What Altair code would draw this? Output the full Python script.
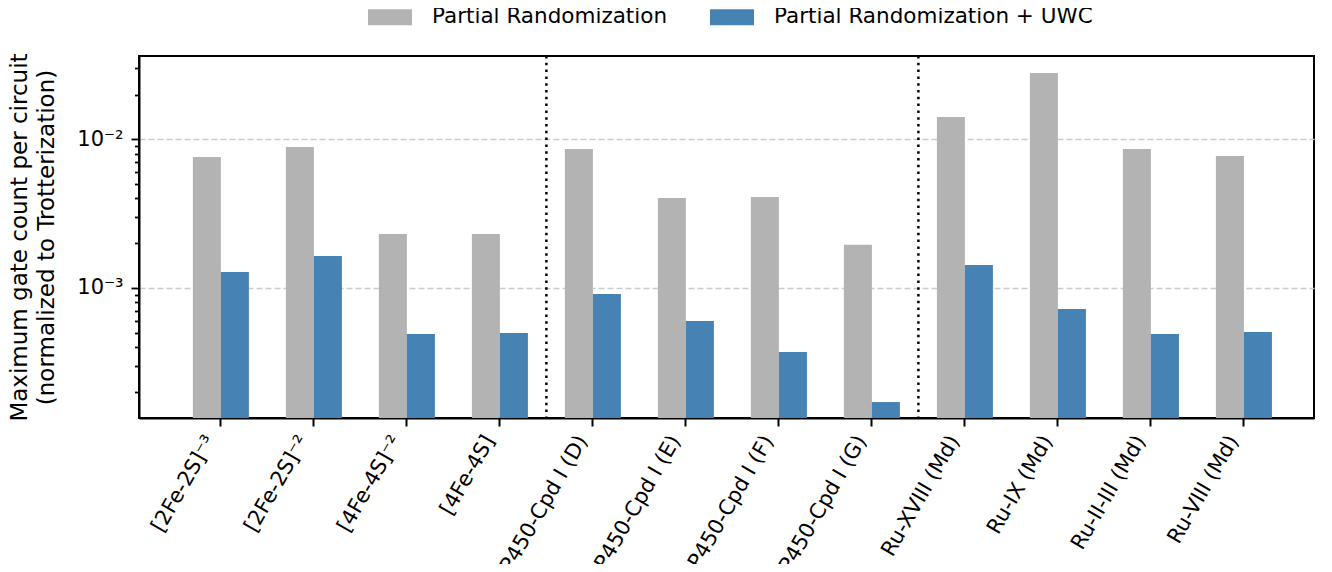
import altair as alt
import pandas as pd

# ---- data ----
categories = [
    "[2Fe-2S]⁻³", "[2Fe-2S]⁻²", "[4Fe-4S]⁻²", "[4Fe-4S]",
    "P450-Cpd I (D)", "P450-Cpd I (E)", "P450-Cpd I (F)", "P450-Cpd I (G)",
    "Ru-XVIII (Md)", "Ru-IX (Md)", "Ru-II-III (Md)", "Ru-VIII (Md)",
]
pr_values = [0.00760, 0.00887, 0.00231, 0.00231,
             0.00861, 0.00403, 0.00409, 0.00195,
             0.01413, 0.0279, 0.00861, 0.00772]
uwc_values = [0.00128, 0.00164, 0.000491, 0.000498,
              0.000912, 0.000600, 0.000371, 0.000171,
              0.00143, 0.000723, 0.000491, 0.000506]
methods = ["Partial Randomization", "Partial Randomization + UWC"]
colors = ["#b3b3b3", "#4682b4"]
separators_after = ["[4Fe-4S]", "P450-Cpd I (G)"]
y_domain = [0.0001336, 0.0363]
y_ticks = [2e-4, 3e-4, 4e-4, 5e-4, 6e-4, 7e-4, 8e-4, 9e-4,
           1e-3, 2e-3, 3e-3, 4e-3, 5e-3, 6e-3, 7e-3, 8e-3, 9e-3,
           1e-2, 2e-2, 3e-2]
y_title = ["Maximum gate count per circuit", "(normalized to Trotterization)"]

rows = []
for c, a, b in zip(categories, pr_values, uwc_values):
    rows.append({"category": c, "method": methods[0], "value": a})
    rows.append({"category": c, "method": methods[1], "value": b})
df = pd.DataFrame(rows)
sep_df = pd.DataFrame({"category": separators_after})

FONT = "DejaVu Sans"
W, H = 1175, 362
major = "abs(log(datum.value)/LN10 - round(log(datum.value)/LN10)) < 0.001"

x_scale = alt.Scale(domain=categories, paddingInner=0, paddingOuter=0.317, align=0.6)

bars = alt.Chart(df).mark_bar().encode(
    x=alt.X(
        "category:N", sort=categories, scale=x_scale, title=None,
        axis=alt.Axis(
            labelAngle=-60, labelAlign="right", labelBaseline="middle",
            labelFontSize=21, labelFont=FONT, labelColor="black",
            labelPadding=11, labelOffset=-10, labelLimit=400,
            tickSize=8, tickWidth=2, tickColor="black",
            domainColor="black", domainWidth=2, grid=False,
        ),
    ),
    xOffset=alt.XOffset(
        "method:N", sort=methods,
        scale=alt.Scale(domain=methods, paddingInner=0, paddingOuter=0.66),
    ),
    y=alt.Y(
        "value:Q", stack=None,
        scale=alt.Scale(type="log", domain=y_domain, nice=False),
        axis=alt.Axis(
            values=y_ticks,
            labelExpr=f"({major}) ? (datum.value < 0.005 ? '10⁻³' : '10⁻²') : ''",
            labelFontSize=21, labelFont=FONT, labelColor="black", labelPadding=8,
            tickSize={"condition": {"test": major, "value": 8}, "value": 4.5},
            tickWidth=1.8, tickColor="black",
            grid=True, gridColor="#cccccc", gridDash=[6, 3], gridWidth=1.3,
            gridOpacity={"condition": {"test": major, "value": 1}, "value": 0},
            domainColor="black", domainWidth=2,
            title=y_title, titleFont=FONT, titleFontSize=23,
            titleFontWeight="normal", titleColor="black",
            titleAngle=-90, titleAlign="center", titleBaseline="top",
            titleX=-131, titleY=H / 2, titleLineHeight=27,
        ),
    ),
    color=alt.Color(
        "method:N",
        scale=alt.Scale(domain=methods, range=colors),
        legend=alt.Legend(
            title=None, orient="none", direction="horizontal",
            legendX=229, legendY=-61, padding=0,
            symbolType="M-1,-0.36H1V0.36H-1Z", symbolSize=1936,
            symbolStrokeWidth=0, symbolOpacity=1,
            labelFont=FONT, labelFontSize=21.5, labelColor="black",
            labelOffset=20, columnPadding=42, labelLimit=600,
        ),
    ),
)

rules = alt.Chart(sep_df).mark_rule(
    color="black", strokeWidth=2.5, strokeDash=[2.5, 4.3]
).encode(
    x=alt.X("category:N", sort=categories, bandPosition=1, title=None),
)

chart = alt.layer(bars, rules).properties(
    width=W, height=H,
    autosize=alt.AutoSizeParams(type="none"),
    padding={"left": 131, "top": 48, "right": 10, "bottom": 146},
).configure(
    font=FONT, background="white"
).configure_view(
    stroke="black", strokeWidth=2
)

chart.save("out.html", embed_options={"renderer": "svg", "actions": False})
